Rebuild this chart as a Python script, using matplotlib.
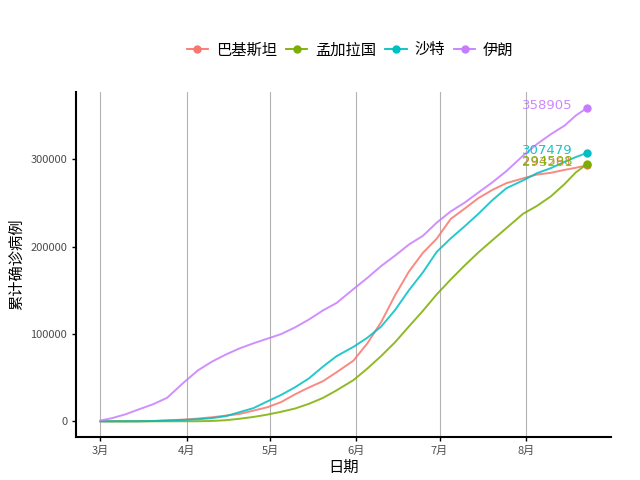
import pandas as pd
import matplotlib
matplotlib.use("Agg")
import matplotlib.pyplot as plt
from matplotlib.lines import Line2D

plt.rcParams['font.family'] = ['Noto Sans CJK SC', 'DejaVu Sans']

# data (cumulative confirmed cases, 2020)
dates = ["03-01", "03-05", "03-10", "03-15", "03-20", "03-25", "03-31",
         "04-05", "04-10", "04-15", "04-20", "04-25", "04-30",
         "05-05", "05-10", "05-15", "05-20", "05-25", "05-31",
         "06-05", "06-10", "06-15", "06-20", "06-25", "06-30",
         "07-05", "07-10", "07-15", "07-20", "07-25", "07-31",
         "08-05", "08-10", "08-15", "08-19", "08-23"]

pakistan = [4, 5, 19, 53, 495, 1063, 2039,
            3157, 4601, 6505, 8418, 12227, 16117,
            22049, 30941, 38799, 45898, 56349, 69496,
            89249, 113702, 144478, 171666, 192970, 209337,
            231818, 243599, 255769, 265083, 272807, 278305,
            282645, 284660, 288047, 290445, 293261]

bangladesh = [0, 0, 3, 5, 20, 39, 51,
              88, 424, 1231, 2948, 4998, 7667,
              10929, 14657, 20065, 26738, 35585, 47153,
              60391, 74865, 90619, 108775, 126606, 145483,
              162417, 178443, 193590, 207453, 221178, 237661,
              246674, 257600, 271881, 285091, 294598]

saudi = [0, 5, 20, 103, 274, 900, 1563,
         2385, 3651, 5862, 10484, 15102, 22753,
         30251, 39048, 49176, 62545, 74795, 85261,
         95748, 108571, 127541, 150292, 170639, 194225,
         209509, 223327, 237803, 253349, 266941, 275905,
         284226, 289947, 297315, 302686, 307479]

iran = [978, 3513, 8042, 13938, 19644, 27017, 44605,
        58226, 68192, 76389, 83505, 89328, 94640,
        99970, 107603, 116635, 126949, 135701, 151466,
        164270, 177938, 189876, 202584, 212501, 227662,
        240438, 250458, 262173, 273788, 286523, 304204,
        317483, 328844, 338825, 350279, 358905]

names = ["巴基斯坦", "孟加拉国", "沙特", "伊朗"]
colors = ["#F8766D", "#7CAE00", "#00BFC4", "#C77CFF"]
series = [pakistan, bangladesh, saudi, iran]

x = pd.to_datetime(["2020-" + d for d in dates])

fig = plt.figure(figsize=(6.4, 4.8), dpi=100)
ax = fig.add_axes([0.119, 0.0896, 0.836, 0.718])

for name, col, vals in zip(names, colors, series):
    ax.plot(x, vals, color=col, lw=1.4, alpha=0.85)
    ax.plot(x[-1], vals[-1], 'o', color=col, ms=5)
    ax.annotate(str(vals[-1]), (x[-1], vals[-1]), xytext=(-10, 2),
                textcoords='offset points', ha='right', va='center',
                color=col, fontsize=9.5, family=['DejaVu Sans'], alpha=0.9)

span = (x[-1] - x[0]) * 0.05
ax.set_xlim(x[0] - span, x[-1] + span)
ax.set_ylim(-17945, 376850)

months = pd.to_datetime(["2020-03-01", "2020-04-01", "2020-05-01",
                         "2020-06-01", "2020-07-01", "2020-08-01"])
ax.set_xticks(months)
ax.set_xticklabels([f"{m.month}月" for m in months])
ax.set_yticks([0, 100000, 200000, 300000])
ax.set_yticklabels(["0", "100000", "200000", "300000"])

ax.grid(axis='x', color='#B3B3B3', lw=0.8)
ax.set_axisbelow(True)
for s in ['top', 'right']:
    ax.spines[s].set_visible(False)
for s in ['left', 'bottom']:
    ax.spines[s].set_linewidth(1.5)
ax.tick_params(axis='both', colors='black', labelcolor='#4D4D4D',
               labelsize=8, length=3, width=1)

ax.set_xlabel("日期", fontsize=11, labelpad=2)
ax.set_ylabel("累计确诊病例", fontsize=11, labelpad=4)

handles = [Line2D([0], [0], color=c, lw=1.3, marker='o', ms=5) for c in colors]
fig.legend(handles, names, loc='center', bbox_to_anchor=(0.547, 0.896),
           ncol=4, frameon=False, fontsize=11, handlelength=1.4,
           columnspacing=0.6, handletextpad=0.5)

fig.savefig("out.png", dpi=100)
